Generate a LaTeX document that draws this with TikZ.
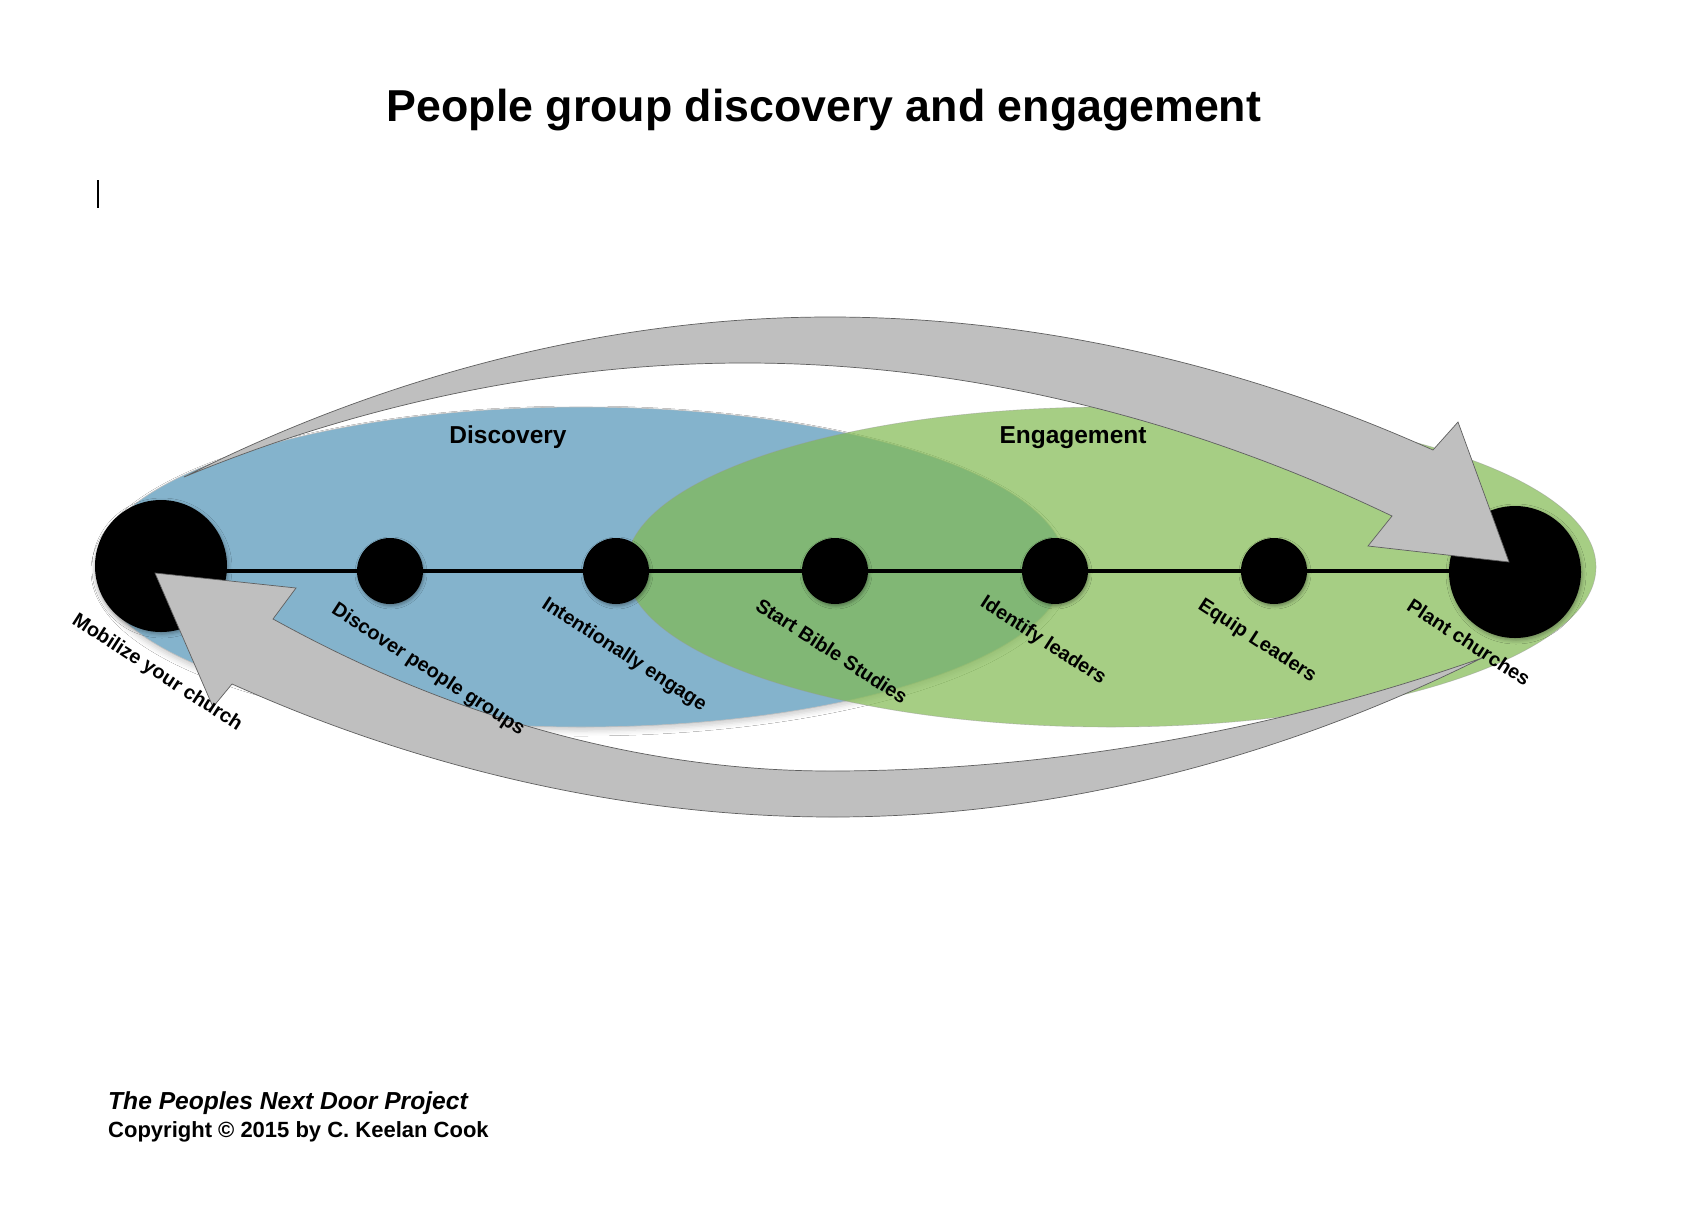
\documentclass[tikz,border=0pt]{standalone}
\usepackage{fontspec}
\setmainfont{Liberation Sans}
\usetikzlibrary{shadows.blur}
\definecolor{discblue}{RGB}{132,179,204}
\definecolor{enggreen}{RGB}{129,186,81}
\definecolor{arrowgray}{RGB}{191,191,191}
\definecolor{edgegray}{RGB}{95,95,95}
\tikzset{
  bigdot/.style={circle, fill=black, minimum size=132pt, inner sep=0pt,
    blur shadow={shadow xshift=1pt, shadow yshift=-2pt, shadow blur radius=4pt, shadow opacity=35}},
  smalldot/.style={circle, fill=black, minimum size=66pt, inner sep=0pt,
    blur shadow={shadow xshift=1pt, shadow yshift=-2pt, shadow blur radius=3pt, shadow opacity=35}},
  steplabel/.style={font=\bfseries\fontsize{19.8}{22}\selectfont, rotate=-33, inner sep=0pt},
  phaselabel/.style={font=\bfseries\fontsize{24.5}{28}\selectfont, anchor=base, inner sep=0pt},
  bandarrow/.style={fill=arrowgray, draw=edgegray, line width=0.7pt, line join=miter},
  chainline/.style={line width=3.4pt},
}
\begin{document}
\begin{tikzpicture}[x=1pt, y=-1pt]
\useasboundingbox (0,0) rectangle (1681,1207);
\fill[white] (0,0) rectangle (1681,1207);

% title
\node[font=\bfseries\fontsize{44.7}{50}\selectfont, anchor=base, inner sep=0pt] (title) at (824,121) {People group discovery and engagement};

% cursor mark
\draw[line width=1.2pt] (98,180) -- (98,208);

% phase ellipses
\path[fill=discblue, draw=black!25, line width=0.6pt,
  blur shadow={shadow xshift=0pt, shadow yshift=-4pt, shadow blur radius=5pt, shadow opacity=18}]
  (581,567) ellipse [x radius=485pt, y radius=160pt];
\path[fill=enggreen, fill opacity=0.7, draw=black!40, draw opacity=0.5, line width=0.6pt]
  (1111,567) ellipse [x radius=485pt, y radius=160pt];

\node[phaselabel] (disc) at (508,443) {Discovery};
\node[phaselabel] (eng) at (1073,443) {Engagement};

% steps
\node[bigdot] (c1) at (161,566) {};
\node[smalldot] (c2) at (390,571) {};
\node[smalldot] (c3) at (616,571) {};
\node[smalldot] (c4) at (835,571) {};
\node[smalldot] (c5) at (1055,571) {};
\node[smalldot] (c6) at (1274,571) {};
\node[bigdot] (c7) at (1515,572) {};
\draw[chainline] (c1.center |- c2.center) -- (c7.center |- c6.center);

% curved block arrows
\coordinate (ta) at (184,477);
\coordinate (tb) at (1433,450);
\coordinate (tc) at (1392,516);
\path[bandarrow] (ta) parabola bend (830,317) (tb) -- (1458,422) -- (1509,562) -- (1368,546) -- (tc) parabola bend (745,363) (ta) -- cycle;

\coordinate (ba) at (1482,658);
\coordinate (bb) at (232,684);
\coordinate (bc) at (273,619);
\path[bandarrow] (ba) parabola bend (833,817) (bb) -- (213,707) -- (155,573) -- (296,588) -- (bc) parabola bend (830,771) (ba) -- cycle;

% step labels
\node[steplabel] (l1) at (157,673) {Mobilize your church};
\node[steplabel] (l2) at (428,670) {Discover people groups};
\node[steplabel] (l3) at (624,655) {Intentionally engage};
\node[steplabel] (l4) at (832,651) {Start Bible Studies};
\node[steplabel] (l5) at (1043,641) {Identify leaders};
\node[steplabel] (l6) at (1257,641) {Equip Leaders};
\node[steplabel] (l7) at (1469,642) {Plant churches};

% footer
\node[anchor=base west, inner sep=0pt, font=\bfseries\itshape\fontsize{24.6}{28}\selectfont] (proj) at (108,1109) {The Peoples Next Door Project};
\node[anchor=base west, inner sep=0pt, font=\bfseries\fontsize{22}{26}\selectfont] (copy) at (108,1137) {Copyright © 2015 by C. Keelan Cook};
\end{tikzpicture}
\end{document}
